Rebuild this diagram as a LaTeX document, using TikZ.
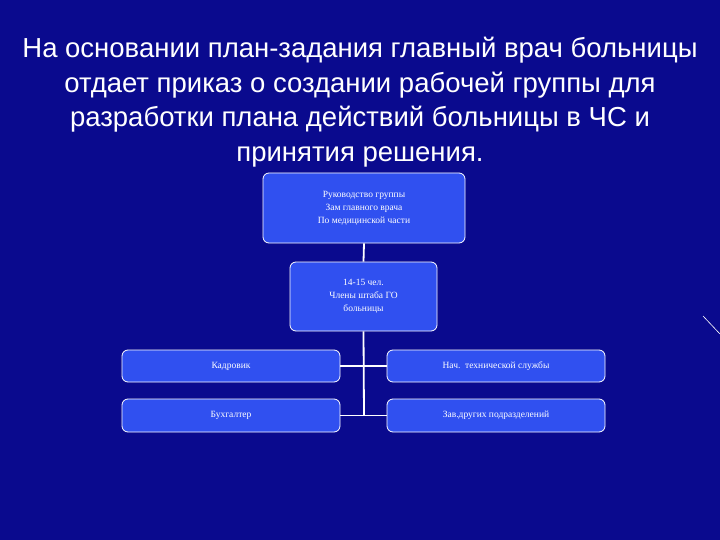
\documentclass[tikz,border=0pt]{standalone}
\usepackage{fontspec}
\setmainfont{Liberation Serif}
\newfontfamily\sansf{Liberation Sans}
\definecolor{bg}{HTML}{0A0A8E}
\definecolor{boxc}{HTML}{3050F0}
\begin{document}
\begin{tikzpicture}[x=1pt,y=-1pt,
 box/.style={draw=white,line width=0.8pt,fill=boxc,rounded corners=6pt,text=white,font=\fontsize{9.5}{13}\selectfont,align=center,inner sep=0pt},
 conn/.style={draw=white,line width=1.8pt}]
\fill[bg] (0,0) rectangle (720,540);
\useasboundingbox (0,0) rectangle (720,540);
\node[text=white,font=\sansf\fontsize{27.5}{34.5}\selectfont,align=center] (title) at (360,102)
 {На основании план-задания главный врач больницы\\отдает приказ о создании рабочей группы для\\разработки плана действий больницы в ЧС и\\принятия решения.};
\node[box,minimum width=202pt,minimum height=70pt] (top) at (364,208) {Руководство группы\\Зам главного врача\\По медицинской части};
\node[box,minimum width=147pt,minimum height=69pt] (mid) at (363.5,296.5) {14-15 чел.\\Члены штаба ГО\\больницы};
\node[box,minimum width=218pt,minimum height=32pt] (l1) at (231,366) {Кадровик};
\node[box,minimum width=218pt,minimum height=32pt] (r1) at (496,366) {Нач.\ \ технической службы};
\node[box,minimum width=218pt,minimum height=33pt] (l2) at (231,415.5) {Бухгалтер};
\node[box,minimum width=218pt,minimum height=33pt] (r2) at (496,415.5) {Зав.других подразделений};
\coordinate (j2) at (364,415.5);
\draw[conn] (top.south) -- (mid.north);
\draw[conn] (mid.south) -- (j2);
\draw[conn] (l1.east) -- (r1.west);
\draw[conn] (l2.east) -- (r2.west);
\draw[white,line width=0.6pt] (703,316) -- (720,334);
\end{tikzpicture}
\end{document}
